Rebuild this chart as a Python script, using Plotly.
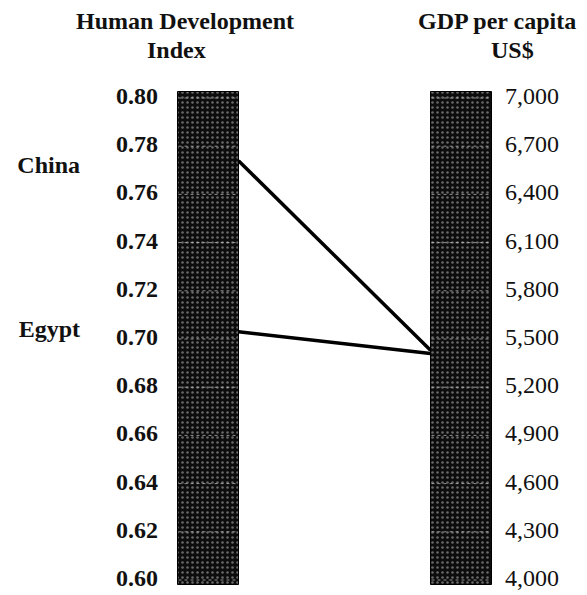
import plotly.graph_objects as go

# ---- data ----
hdi_ticks = [0.60, 0.62, 0.64, 0.66, 0.68, 0.70, 0.72, 0.74, 0.76, 0.78, 0.80]
gdp_ticks = [4000, 4300, 4600, 4900, 5200, 5500, 5800, 6100, 6400, 6700, 7000]
countries = ["China", "Egypt"]
hdi_values = [0.774, 0.703]
gdp_values = [5430, 5410]
left_title_lines = ["Human Development", "Index"]
right_title_lines = ["GDP per capita", "US$"]

hdi_min, hdi_max = min(hdi_ticks), max(hdi_ticks)
gdp_min, gdp_max = min(gdp_ticks), max(gdp_ticks)


def norm_hdi(v):
    return (v - hdi_min) / (hdi_max - hdi_min)


def norm_gdp(v):
    return (v - gdp_min) / (gdp_max - gdp_min)


FONT = "Liberation Serif"
W, H = 587, 595
# axis geometry (pixel-based)
left_c, right_c = 208, 461
unit = right_c - left_c
x0 = -left_c / unit
x1 = x0 + W / unit
top_px, bot_px = 98, 580
yu = bot_px - top_px
y_top = 1 + top_px / yu
y_bot = -(H - bot_px) / yu


def px_x(p):
    return (p - left_c) / unit


def px_y(p):
    return 1 - (p - top_px) / yu


bar_w = 61 / unit

fig = go.Figure()

# textured bars
fig.add_trace(go.Bar(
    x=[0, 1], y=[1.022, 1.022], base=[-0.01, -0.01], width=bar_w,
    marker=dict(color="#1a1a1a", line=dict(color="#000", width=1),
                pattern=dict(shape=".", fgcolor="#c8c8c8", bgcolor="#0c0c0c",
                             size=5, solidity=0.2)),
    hoverinfo="skip", showlegend=False,
))

# faint grid stripes inside bars
for xc in (0, 1):
    xs, ys = [], []
    for t in hdi_ticks:
        yy = norm_hdi(t)
        xs += [xc - bar_w / 2 + 0.004, xc + bar_w / 2 - 0.004, None]
        ys += [yy, yy, None]
    fig.add_trace(go.Scatter(x=xs, y=ys, mode="lines",
                             line=dict(color="rgba(230,230,230,0.6)", width=1, dash="dot"),
                             hoverinfo="skip", showlegend=False))

# connecting lines
for c, h, g in zip(countries, hdi_values, gdp_values):
    fig.add_trace(go.Scatter(
        x=[bar_w / 2, 1 - bar_w / 2], y=[norm_hdi(h), norm_gdp(g)],
        mode="lines", line=dict(color="#000", width=3.5),
        hoverinfo="skip", showlegend=False,
    ))

# tick labels
fig.add_trace(go.Scatter(
    x=[px_x(158)] * len(hdi_ticks), y=[norm_hdi(t) for t in hdi_ticks],
    mode="text", text=[f"<b>{t:.2f}</b>" for t in hdi_ticks], textposition="middle left",
    textfont=dict(family=FONT, size=24, color="#111"), showlegend=False, hoverinfo="skip",
))
fig.add_trace(go.Scatter(
    x=[px_x(505)] * len(gdp_ticks), y=[norm_gdp(t) for t in gdp_ticks],
    mode="text", text=[f"{t:,}" for t in gdp_ticks], textposition="middle right",
    textfont=dict(family=FONT, size=24, color="#111"), showlegend=False, hoverinfo="skip",
))

# country labels
fig.add_trace(go.Scatter(
    x=[px_x(80)] * len(countries), y=[px_y(167), px_y(331)],
    mode="text", text=[f"<b>{c}</b>" for c in countries], textposition="middle left",
    textfont=dict(family=FONT, size=24, color="#111"), showlegend=False, hoverinfo="skip",
))

# titles
for txt, cx, cy in zip(left_title_lines, [185, 176], [21, 50]):
    fig.add_annotation(x=px_x(cx), y=px_y(cy), xref="x", yref="y",
                       text=f"<b>{txt}</b>", showarrow=False,
                       font=dict(family=FONT, size=24, color="#111"))
for txt, cx, cy in zip(right_title_lines, [497, 512], [21, 50]):
    fig.add_annotation(x=px_x(cx), y=px_y(cy), xref="x", yref="y",
                       text=f"<b>{txt}</b>", showarrow=False,
                       font=dict(family=FONT, size=24, color="#111"))

fig.update_layout(
    width=W, height=H, margin=dict(l=0, r=0, t=0, b=0),
    paper_bgcolor="white", plot_bgcolor="white", showlegend=False,
    xaxis=dict(range=[x0, x1], visible=False, fixedrange=True),
    yaxis=dict(range=[y_bot, y_top], visible=False, fixedrange=True),
    bargap=0,
)

fig.write_html("out.html", config={"displayModeBar": False},
               post_script="document.body.style.margin='0px';")
